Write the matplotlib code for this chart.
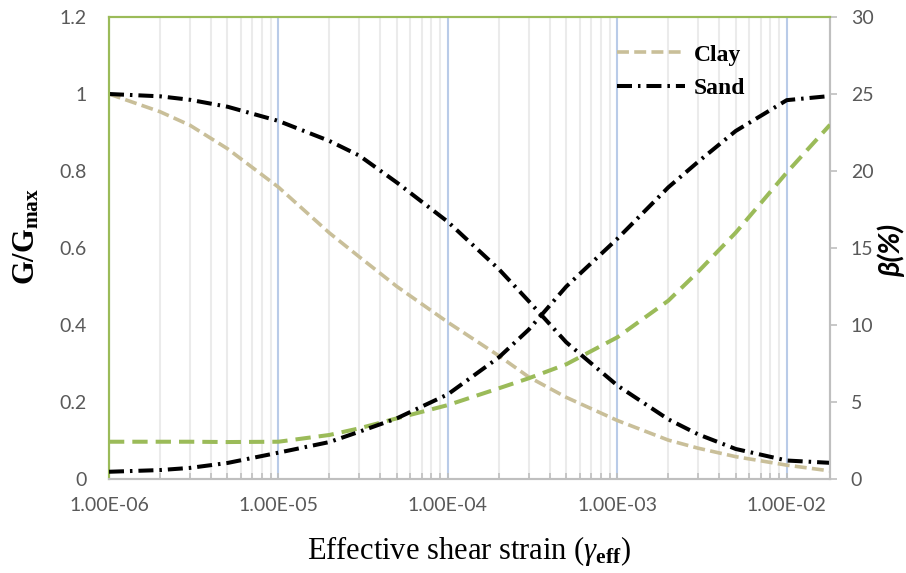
import matplotlib
matplotlib.use("Agg")
import matplotlib.pyplot as plt
from matplotlib.ticker import FixedLocator, FuncFormatter, NullFormatter

# ---- data ----
strain = [1e-6, 2e-6, 3e-6, 5e-6, 1e-5, 2e-5, 3e-5, 5e-5, 1e-4, 2e-4, 3e-4, 5e-4,
          1e-3, 2e-3, 3e-3, 5e-3, 1e-2, 1.8e-2]
clay_G = [1.0, 0.954, 0.919, 0.858, 0.758, 0.639, 0.577, 0.500, 0.407, 0.320, 0.265,
          0.212, 0.152, 0.101, 0.080, 0.058, 0.036, 0.021]
sand_G = [1.0, 0.994, 0.985, 0.967, 0.930, 0.878, 0.840, 0.770, 0.668, 0.545, 0.462,
          0.355, 0.243, 0.155, 0.116, 0.078, 0.048, 0.042]
clay_D = [2.42, 2.42, 2.42, 2.40, 2.42, 2.86, 3.29, 3.94, 4.80, 5.89, 6.54, 7.45,
          9.20, 11.58, 13.46, 16.0, 19.9, 23.0]
sand_D = [0.47, 0.58, 0.72, 1.04, 1.71, 2.40, 3.07, 3.94, 5.50, 7.90, 9.70, 12.5,
          15.6, 18.94, 20.6, 22.6, 24.6, 24.87]
legend_labels = ["Clay", "Sand"]
x_major = [1e-6, 1e-5, 1e-4, 1e-3, 1e-2]
y_left_ticks = [0, 0.2, 0.4, 0.6, 0.8, 1.0, 1.2]
y_right_ticks = [0, 5, 10, 15, 20, 25, 30]

# ---- style ----
plt.rcParams["lines.scale_dashes"] = False
plt.rcParams["mathtext.fontset"] = "custom"
plt.rcParams["mathtext.rm"] = "Liberation Serif"
plt.rcParams["mathtext.it"] = "Liberation Serif:italic"
plt.rcParams["mathtext.bf"] = "Liberation Serif:bold"

TAN = "#C9BF99"
GREEN = "#9BBB59"
GRAY = "#BFBFBF"
TICKC = "#595959"
TICKFONT = "Lato"

W, H = 906, 573
fig = plt.figure(figsize=(W / 100, H / 100), dpi=100)
L, R, T, B = 109, 830, 17, 479
ax = fig.add_axes([L / W, 1 - B / H, (R - L) / W, (B - T) / H])
ax2 = ax.twinx()

ax.set_xscale("log")
ax.set_xlim(strain[0], strain[-1])
ax.set_ylim(0, 1.2)
ax2.set_ylim(0, 30)

# gridlines (vertical only)
minor_pos = [m * 10.0 ** e for e in range(-6, -1) for m in range(2, 10) if m * 10.0 ** e <= strain[-1]]
for xm in minor_pos:
    ax.axvline(xm, color="#EBEBEB", lw=1.5, zorder=0)
for xM in x_major:
    ax.axvline(xM, color="#B9CBE8", lw=1.5, zorder=0)

sand_dash = (10.8, 4.3, 1.8, 4.3)
ax.plot(strain, clay_G, color=TAN, lw=2.6, dashes=(8.6, 3.8), label=legend_labels[0], zorder=3)
ax.plot(strain, sand_G, color="black", lw=2.9, dashes=sand_dash, label=legend_labels[1], zorder=3)
ax2.plot(strain, clay_D, color=GREEN, lw=2.9, dashes=(11.0, 5.8), zorder=3)
ax2.plot(strain, sand_D, color="black", lw=2.9, dashes=sand_dash, zorder=3)

# axes / spines
for a in (ax, ax2):
    a.spines["left"].set_color(GREEN)
    a.spines["left"].set_linewidth(1.5)
    a.spines["top"].set_color(GREEN)
    a.spines["top"].set_linewidth(1.5)
    a.spines["right"].set_color(GRAY)
    a.spines["right"].set_linewidth(1.5)
    a.spines["bottom"].set_color(GRAY)
    a.spines["bottom"].set_linewidth(1.5)

ax.xaxis.set_major_locator(FixedLocator(x_major))
ax.xaxis.set_minor_locator(FixedLocator(minor_pos))
ax.xaxis.set_major_formatter(FuncFormatter(lambda v, p: f"{v:.2E}"))
ax.xaxis.set_minor_formatter(NullFormatter())
ax.tick_params(axis="x", which="both", direction="in", length=4, width=1.2, color=GRAY,
               labelsize=14, labelcolor=TICKC, pad=13)
ax.set_yticks(y_left_ticks)
ax.yaxis.set_major_formatter(FuncFormatter(lambda v, p: f"{v:g}"))
ax.tick_params(axis="y", which="both", length=0, labelsize=14, labelcolor=TICKC, pad=16)
ax2.set_yticks(y_right_ticks)
ax2.tick_params(axis="y", which="both", direction="out", length=5, width=1.2, color=GRAY,
                labelsize=14, labelcolor=TICKC, pad=10)
for lab in ax.get_xticklabels() + ax.get_yticklabels() + ax2.get_yticklabels():
    lab.set_fontfamily(TICKFONT)

# axis titles
fig.text(469 / W, 1 - 551 / H, r"Effective shear strain ($\mathit{\gamma}_{\mathbf{eff}}$)",
         family="Liberation Serif", fontsize=22, ha="center", va="center")
fig.text(26 / W, 1 - 236 / H, r"$\mathbf{G/G}_{\mathbf{max}}$", fontsize=22,
         rotation=90, ha="center", va="center")
fig.text(891 / W, 1 - 250 / H, "\u03b2(%)", family=TICKFONT, fontsize=21, fontweight="bold",
         fontstyle="italic", rotation=90, ha="center", va="center")

# legend
h, l = ax.get_legend_handles_labels()
leg = ax2.legend(h, l, loc="upper left", bbox_to_anchor=((617 - L) / (R - L), (B - 44) / (B - T)),
                 frameon=False, borderpad=0, borderaxespad=0, handlelength=2.9,
                 handletextpad=0.35, labelspacing=0.5,
                 prop={"family": "Liberation Serif", "weight": "bold", "size": 17})

fig.savefig("out.png", dpi=100)
